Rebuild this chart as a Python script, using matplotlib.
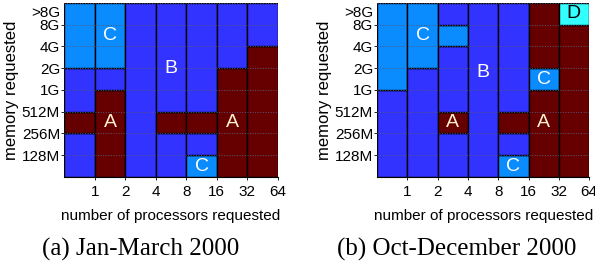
import matplotlib
matplotlib.use("Agg")
import matplotlib.pyplot as plt

plt.rcParams['font.family'] = ['Liberation Sans', 'DejaVu Sans']

proc_labels = ['1', '2', '4', '8', '16', '32', '64']
mem_labels = ['128M', '256M', '512M', '1G', '2G', '4G', '8G', '>8G']

# category of each cell, one string per processor column, rows from bottom (<128M) to top (>8G)
cells_a = ['BBABBCCC', 'AAAABCCC', 'BBBBBBBB', 'BBABBBBB',
           'CBABBBBB', 'AAAAABBB', 'AAAAAABB']
cells_b = ['BBBBCCCC', 'BBBBBCCC', 'BBABBBCB', 'BBBBBBBB',
           'CBABBBBB', 'AAAACAAA', 'AAAAAAAD']

# region labels: (letter, column centre, row centre)
labels_a = [('C', 1.5, 6.5), ('A', 1.5, 2.5), ('B', 3.5, 5.0),
            ('A', 5.5, 2.5), ('C', 4.5, 0.5)]
labels_b = [('C', 1.5, 6.5), ('A', 2.5, 2.5), ('B', 3.5, 4.8),
            ('C', 5.5, 4.5), ('A', 5.5, 2.5), ('C', 4.5, 0.5), ('D', 6.5, 7.5)]

colors = {'A': '#660000', 'B': '#3333FF', 'C': '#0A8CFF', 'D': '#33FFFF'}
text_colors = {'A': '#FFF0CC', 'B': 'white', 'C': 'white', 'D': 'black'}

fig = plt.figure(figsize=(5.95, 2.65), dpi=100)
ax_a = fig.add_axes([0.108, 0.332, 0.359, 0.657])
ax_b = fig.add_axes([0.634, 0.332, 0.356, 0.657])


def draw(ax, cells, labels, caption, cap_x):
    for i, col in enumerate(cells):
        # merge consecutive rows of the same category into one block
        start = 0
        for j in range(1, len(col) + 1):
            if j == len(col) or col[j] != col[start]:
                ax.bar(i + 0.5, j - start, bottom=start, width=1.0,
                       color=colors[col[start]], edgecolor='black',
                       linewidth=1.0, zorder=2)
                start = j
    for y in range(1, 9):
        ax.axhline(y, color='#555577', linestyle=':', linewidth=0.7, zorder=3)
    for letter, x, y in labels:
        ax.text(x, y, letter, ha='center', va='center', fontsize=14,
                color=text_colors[letter], zorder=4)
    ax.set_xlim(0, 7)
    ax.set_ylim(0, 8)
    ax.set_xticks(range(1, 8))
    ax.set_xticklabels(proc_labels, fontsize=11)
    ax.set_yticks([1, 2, 3, 4, 5, 6, 7, 7.6])
    ax.set_yticklabels(mem_labels, fontsize=11)
    ax.tick_params(axis='both', length=2, width=0.6, pad=1)
    ax.tick_params(axis='x', pad=4)
    yt = ax.yaxis.get_major_ticks()
    yt[-1].tick1line.set_visible(False)
    for s in ['top', 'right', 'left']:
        ax.spines[s].set_visible(False)
    ax.set_xlabel('number of processors requested', fontsize=11, labelpad=7)
    ax.set_ylabel('memory requested', fontsize=12, labelpad=2)
    fig.text(cap_x, 0.058, caption, ha='center', va='center', fontsize=18,
             family=['Liberation Serif', 'DejaVu Serif'])


draw(ax_a, cells_a, labels_a, '(a) Jan-March 2000', 0.237)
draw(ax_b, cells_b, labels_b, '(b) Oct-December 2000', 0.768)

fig.savefig('out.png', dpi=100)
